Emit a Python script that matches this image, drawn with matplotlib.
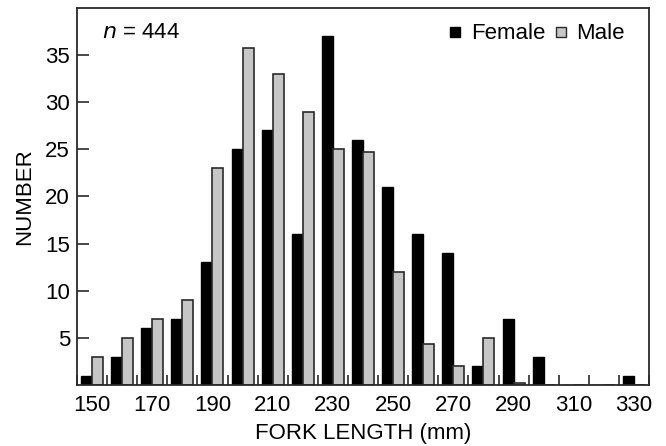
import numpy as np
import matplotlib.pyplot as plt
from matplotlib.lines import Line2D

plt.rcParams['font.family'] = ['Liberation Sans', 'DejaVu Sans']

lengths = [150, 160, 170, 180, 190, 200, 210, 220, 230, 240,
           250, 260, 270, 280, 290, 300, 310, 320, 330]
female = [1, 3, 6, 7, 13, 25, 27, 16, 37, 26, 21, 16, 14, 2, 7, 3, 0, 0, 1]
male = [3, 5, 7, 9, 23, 35.7, 33, 29, 25, 24.7, 12, 4.3, 2, 5, 0.2, 0, 0, 0, 0]

x = np.arange(len(lengths))
w = 0.365
edge = '#2a2a2a'
fs = 16

fig = plt.figure(figsize=(6.66, 4.46), dpi=100)
ax = fig.add_axes([0.1156, 0.1368, 0.859, 0.8455])

ax.bar(x - w/2, female, w, color='black', edgecolor='black', linewidth=1)
ax.bar(x + w/2, male, w, color='#c6c6c6', edgecolor=edge, linewidth=1.2)

ax.set_xlim(-0.5, len(lengths) - 0.5)
ax.set_ylim(0, 40)

ax.set_xticks(x[::2])
ax.set_xticklabels([str(v) for v in lengths[::2]], fontsize=fs)
ax.set_xticks(np.arange(-0.5, len(lengths)), minor=True)
ax.tick_params(axis='x', which='major', length=0, pad=7)
ax.tick_params(axis='x', which='minor', direction='in', length=7.5, width=1.2, color=edge)

ax.set_yticks([5, 10, 15, 20, 25, 30, 35])
ax.tick_params(axis='y', direction='in', length=8.5, width=1.2, color=edge, labelsize=fs, pad=5)

for s in ax.spines.values():
    s.set_color(edge)
    s.set_linewidth(1.3)

ax.set_xlabel('FORK LENGTH (mm)', fontsize=fs, labelpad=5)
ax.set_ylabel('NUMBER', fontsize=fs, labelpad=7)

ax.text(0.043, 0.935, r'$n$ = 444', transform=ax.transAxes, fontsize=fs,
        va='center', ha='left')

handles = [Line2D([], [], ls='none', marker='s', markersize=7.5,
                  markerfacecolor='black', markeredgecolor='black'),
           Line2D([], [], ls='none', marker='s', markersize=7.5,
                  markerfacecolor='#c6c6c6', markeredgecolor=edge)]
ax.legend(handles, ['Female', 'Male'], loc='upper right', ncol=2, frameon=False,
          fontsize=fs, handlelength=0.5, handletextpad=0.45,
          columnspacing=0.45, borderaxespad=0.3, bbox_to_anchor=(0.985, 1.0))

fig.savefig('out.png', dpi=100)
